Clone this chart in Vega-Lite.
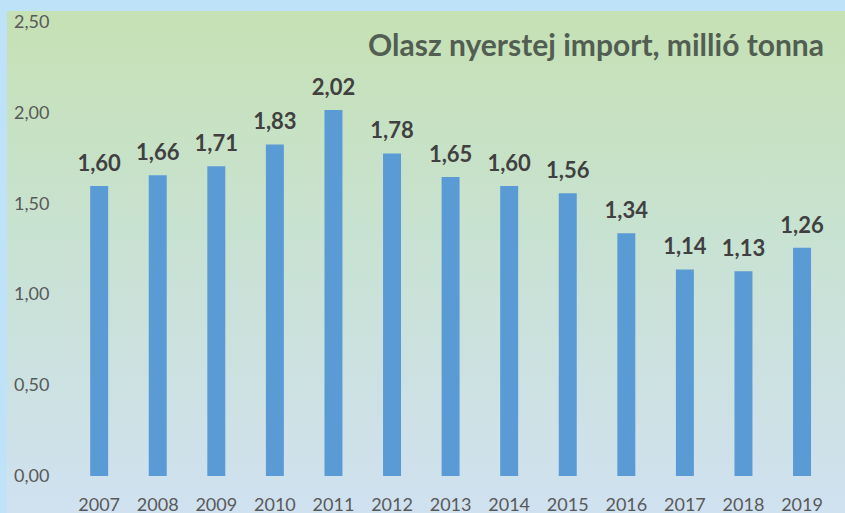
{
  "$schema": "https://vega.github.io/schema/vega-lite/v6.json",
  "width": 838,
  "height": 502,
  "autosize": {"type": "none"},
  "padding": {"left": 7, "top": 11, "right": 0, "bottom": 0},
  "background": "#bee3f8",
  "title": {
    "text": "Olasz nyerstej import, millió tonna",
    "anchor": "end",
    "frame": "group",
    "orient": "top",
    "offset": 0,
    "baseline": "alphabetic",
    "dy": 75,
    "dx": -21,
    "font": "Lato",
    "fontSize": 30,
    "fontWeight": "bold",
    "color": "#525e52"
  },
  "config": {
    "locale": {"number": {"decimal": ",", "thousands": " ", "grouping": [3], "currency": ["", ""]}},
    "view": {
      "stroke": null,
      "fill": {
        "gradient": "linear",
        "x1": 0, "y1": 0, "x2": 0, "y2": 1,
        "stops": [
          {"offset": 0, "color": "#c6e1b4"},
          {"offset": 0.45, "color": "#c8e2d2"},
          {"offset": 1, "color": "#d0e1f0"}
        ]
      }
    },
    "axis": {"labelFont": "Lato", "labelFontSize": 18, "labelColor": "#595959", "domain": false, "ticks": false, "tickSize": 0, "grid": false, "title": null}
  },
  "data": {
    "values": [
      {"year": "2007", "value": 1.60},
      {"year": "2008", "value": 1.66},
      {"year": "2009", "value": 1.71},
      {"year": "2010", "value": 1.83},
      {"year": "2011", "value": 2.02},
      {"year": "2012", "value": 1.78},
      {"year": "2013", "value": 1.65},
      {"year": "2014", "value": 1.60},
      {"year": "2015", "value": 1.56},
      {"year": "2016", "value": 1.34},
      {"year": "2017", "value": 1.14},
      {"year": "2018", "value": 1.13},
      {"year": "2019", "value": 1.26}
    ]
  },
  "encoding": {
    "x": {
      "field": "year",
      "type": "nominal",
      "sort": null,
      "scale": {"paddingInner": 0.693, "paddingOuter": 1.0, "align": 0.71},
      "axis": {"orient": "bottom", "offset": -37, "labelAngle": 0, "labelBaseline": "middle", "labelPadding": 29, "labelFontSize": 18}
    },
    "y": {
      "field": "value",
      "type": "quantitative",
      "scale": {"domain": [-0.204, 2.566], "nice": false, "zero": false},
      "axis": {"orient": "left", "offset": -42, "values": [0, 0.5, 1, 1.5, 2, 2.5], "format": ".2f", "labelAlign": "right", "labelPadding": 0, "labelFontSize": 18}
    }
  },
  "layer": [
    {
      "mark": {"type": "bar", "color": "#5b9bd5"},
      "encoding": {"y2": {"datum": 0}}
    },
    {
      "mark": {"type": "text", "baseline": "middle", "dy": -22, "font": "Lato", "fontSize": 22, "fontWeight": "bold", "color": "#404040"},
      "encoding": {"text": {"field": "value", "type": "quantitative", "format": ".2f"}}
    }
  ]
}
